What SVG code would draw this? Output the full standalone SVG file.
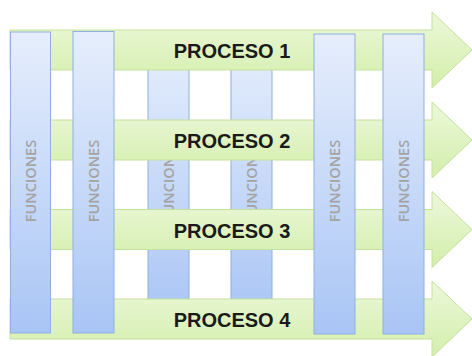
<svg xmlns="http://www.w3.org/2000/svg" width="472" height="356" viewBox="0 0 472 356">
  <defs>
    <linearGradient id="gArrow" x1="0" y1="0" x2="0" y2="1">
      <stop offset="0" stop-color="#ecf8da"/>
      <stop offset="1" stop-color="#d3eeab"/>
    </linearGradient>
    <linearGradient id="gCol" x1="0" y1="0" x2="0" y2="1">
      <stop offset="0" stop-color="#e6eefc"/>
      <stop offset="1" stop-color="#a9c5f5"/>
    </linearGradient>
    <path id="arrowShape" d="M10,18 H432 V0 L472,38 L432,76 V58 H10 Z"/>
  </defs>
  <style>
    .arrow { fill: url(#gArrow); stroke: #c3e19c; stroke-width: 1; }
    .col { fill: url(#gCol); stroke: #8fb0de; stroke-width: 1; }
    .proc { font-family: "Liberation Sans", Arial, sans-serif; font-weight: bold; font-size: 20px; fill: #1a1a1a; text-anchor: middle; }
    .func { font-family: "Open Sans", "Liberation Sans", sans-serif; font-weight: 600; font-size: 14.5px; fill: #a3a3a3; text-anchor: middle; }
  </style>
  <rect width="472" height="356" fill="#ffffff"/>

  <!-- back columns -->
  <g id="col3">
    <rect class="col" x="148" y="40" width="41" height="280"/>
    <text class="func" transform="translate(168.5,181) rotate(-90)" y="5.5">FUNCIONES</text>
  </g>
  <g id="col4">
    <rect class="col" x="231" y="40" width="41" height="280"/>
    <text class="func" transform="translate(251.5,181) rotate(-90)" y="5.5">FUNCIONES</text>
  </g>

  <!-- process arrows -->
  <g id="proceso1">
    <use href="#arrowShape" class="arrow" transform="translate(0,12)"/>
    <text class="proc" x="232" y="57.5">PROCESO 1</text>
  </g>
  <g id="proceso2">
    <use href="#arrowShape" class="arrow" transform="translate(0,102)"/>
    <text class="proc" x="232" y="147.5">PROCESO 2</text>
  </g>
  <g id="proceso3">
    <use href="#arrowShape" class="arrow" transform="translate(0,191.5)"/>
    <text class="proc" x="232" y="237.5">PROCESO 3</text>
  </g>
  <g id="proceso4">
    <use href="#arrowShape" class="arrow" transform="translate(0,281)"/>
    <text class="proc" x="232" y="327">PROCESO 4</text>
  </g>

  <!-- front columns -->
  <g id="col1">
    <rect class="col" x="10.5" y="32" width="40" height="301"/>
    <text class="func" transform="translate(30.5,181) rotate(-90)" y="5.5">FUNCIONES</text>
  </g>
  <g id="col2">
    <rect class="col" x="73" y="31.5" width="41" height="301.5"/>
    <text class="func" transform="translate(93.5,181) rotate(-90)" y="5.5">FUNCIONES</text>
  </g>
  <g id="col5">
    <rect class="col" x="314" y="34" width="41" height="300"/>
    <text class="func" transform="translate(334.5,181) rotate(-90)" y="5.5">FUNCIONES</text>
  </g>
  <g id="col6">
    <rect class="col" x="383" y="34" width="41" height="300"/>
    <text class="func" transform="translate(403.5,181) rotate(-90)" y="5.5">FUNCIONES</text>
  </g>
</svg>
